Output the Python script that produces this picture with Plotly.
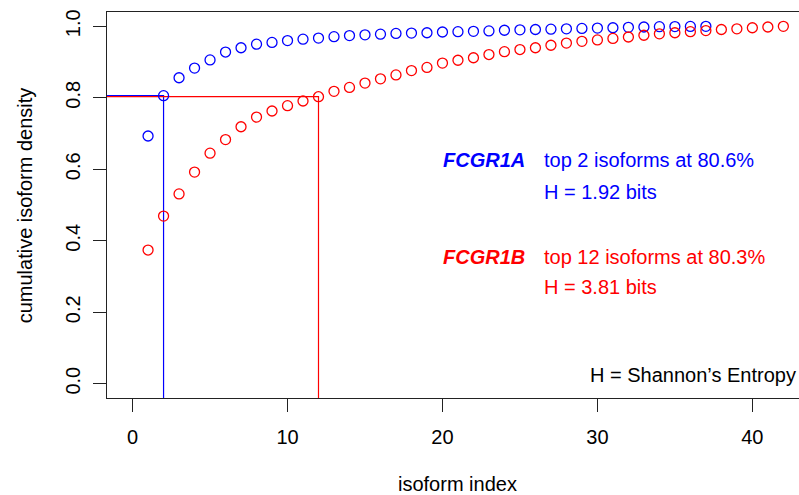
import plotly.graph_objects as go

# ---- data ----
fcgr1a_index = list(range(1, 38))
fcgr1a_cum = [0.693, 0.806, 0.856, 0.883, 0.906, 0.928, 0.940, 0.950, 0.955, 0.960,
              0.964, 0.967, 0.971, 0.974, 0.976, 0.978, 0.980, 0.981, 0.982, 0.984,
              0.985, 0.986, 0.987, 0.989, 0.990, 0.991, 0.992, 0.993, 0.994, 0.995,
              0.996, 0.997, 0.998, 0.999, 0.9993, 0.9997, 1.000]
fcgr1b_index = list(range(1, 43))
fcgr1b_cum = [0.374, 0.469, 0.531, 0.592, 0.645, 0.683, 0.719, 0.746, 0.763, 0.778,
              0.791, 0.803, 0.818, 0.829, 0.841, 0.853, 0.864, 0.876, 0.885, 0.897,
              0.905, 0.912, 0.921, 0.929, 0.935, 0.940, 0.947, 0.953, 0.958, 0.962,
              0.966, 0.970, 0.975, 0.979, 0.982, 0.985, 0.988, 0.991, 0.993, 0.996,
              0.998, 1.000]
fcgr1a_top, fcgr1a_pct, fcgr1a_H = 2, 0.806, 1.92
fcgr1b_top, fcgr1b_pct, fcgr1b_H = 12, 0.803, 3.81
x_ticks = [0, 10, 20, 30, 40]
y_ticks = [0.0, 0.2, 0.4, 0.6, 0.8, 1.0]

# ---- layout constants ----
XR = [-1.65, 43.01]
YR = [-0.04, 1.04]
FONT = "Liberation Sans, Arial, Helvetica, sans-serif"
FS = 20
BLUE = "#0000ff"
RED = "#ff0000"

fig = go.Figure()

def guide(top, pct, color):
    fig.add_trace(go.Scatter(x=[XR[0], top, top], y=[pct, pct, YR[0]], mode="lines",
                             line=dict(color=color, width=1.2), hoverinfo="skip",
                             showlegend=False))

guide(fcgr1a_top, fcgr1a_pct, BLUE)
guide(fcgr1b_top, fcgr1b_pct, RED)

fig.add_trace(go.Scatter(x=fcgr1a_index, y=fcgr1a_cum, mode="markers",
                         marker=dict(symbol="circle-open", size=10, color=BLUE,
                                     line=dict(width=1.3, color=BLUE)),
                         showlegend=False))
fig.add_trace(go.Scatter(x=fcgr1b_index, y=fcgr1b_cum, mode="markers",
                         marker=dict(symbol="circle-open", size=10, color=RED,
                                     line=dict(width=1.3, color=RED)),
                         showlegend=False))

def txt(x, y, s, color, anchor, xref="x", yref="y", angle=0):
    fig.add_annotation(x=x, y=y, xref=xref, yref=yref, text=s, showarrow=False,
                       xanchor=anchor, yanchor="middle", textangle=angle,
                       font=dict(family=FONT, size=FS, color=color), borderpad=0)

txt(25.38, 0.626, "<b><i>FCGR1A</i></b>", BLUE, "right")
txt(26.52, 0.626, f"top {fcgr1a_top} isoforms at {fcgr1a_pct*100:.1f}%", BLUE, "left")
txt(26.52, 0.537, f"H = {fcgr1a_H:.2f} bits", BLUE, "left")
txt(25.38, 0.355, "<b><i>FCGR1B</i></b>", RED, "right")
txt(26.52, 0.355, f"top {fcgr1b_top} isoforms at {fcgr1b_pct*100:.1f}%", RED, "left")
txt(26.52, 0.271, f"H = {fcgr1b_H:.2f} bits", RED, "left")
txt(42.88, 0.0235, "H = Shannon\u2019s Entropy", "black", "right")

# axis titles
txt(21.0, -0.224, "isoform index", "black", "center", xref="x", yref="paper")
txt(-0.118, 0.5, "cumulative isoform density", "black", "center", xref="paper", yref="paper", angle=-90)

fig.update_layout(
    width=799, height=495,
    margin=dict(l=107, r=0, t=12, b=97),
    paper_bgcolor="white", plot_bgcolor="white",
    font=dict(family=FONT, size=FS, color="black"),
    xaxis=dict(range=XR, tickvals=x_ticks, ticktext=[str(v) for v in x_ticks],
               showgrid=False, zeroline=False, showline=True, mirror=True,
               linecolor="#222", linewidth=1.2, ticks="outside", ticklen=13,
               tickwidth=1.2, tickcolor="#222", ticklabelstandoff=8,
               tickfont=dict(family=FONT, size=FS, color="black")),
    yaxis=dict(range=YR, tickvals=y_ticks, tickformat=".1f",
               showgrid=False, zeroline=False, showline=True,
               linecolor="#222", linewidth=1.2, ticks="outside", ticklen=13,
               tickwidth=1.2, tickcolor="#222", tickangle=-90, ticklabelstandoff=5,
               tickfont=dict(family=FONT, size=FS, color="black")),
)

fig.write_html("out.html", config={"displayModeBar": False},
               post_script="document.body.style.margin='0';")
